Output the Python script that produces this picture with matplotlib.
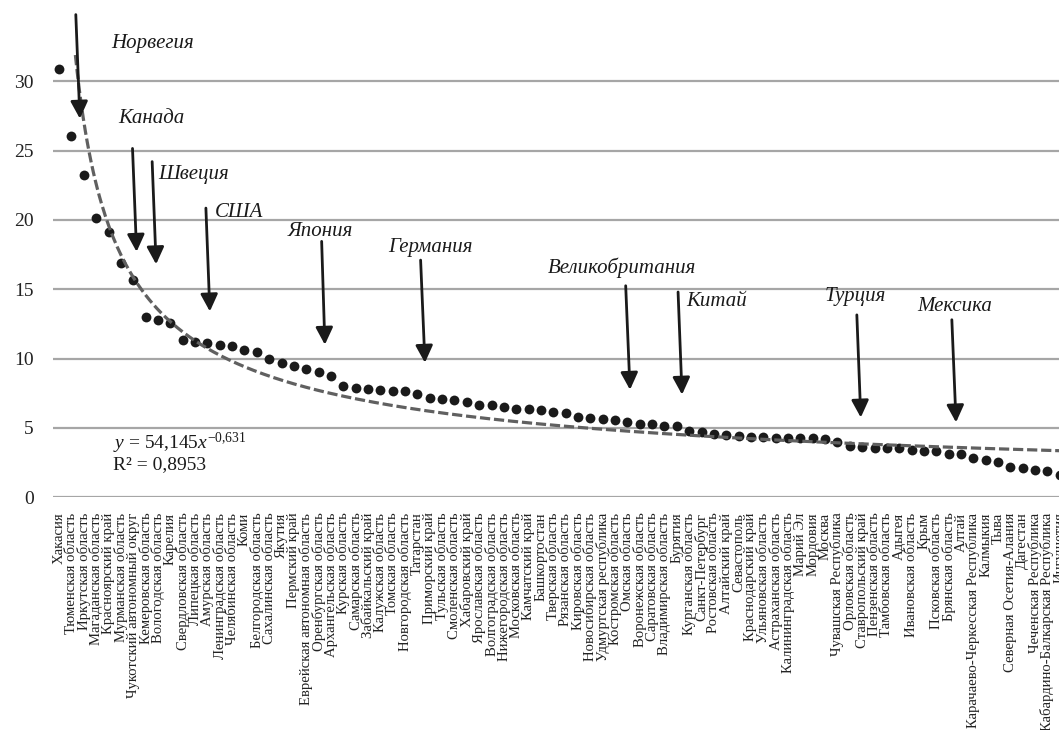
import numpy as np
import matplotlib
matplotlib.use('Agg')
import matplotlib.pyplot as plt

plt.rcParams['font.family'] = ['Liberation Serif', 'DejaVu Serif']
plt.rcParams['mathtext.fontset'] = 'custom'
plt.rcParams['mathtext.rm'] = 'Liberation Serif'
plt.rcParams['mathtext.it'] = 'Liberation Serif:italic'

# регионы в порядке убывания показателя
regions = [
    'Хакасия', 'Тюменская область', 'Иркутская область', 'Магаданская область',
    'Красноярский край', 'Мурманская область', 'Чукотский автономный округ',
    'Кемеровская область', 'Вологодская область', 'Карелия', 'Свердловская область',
    'Липецкая область', 'Амурская область', 'Ленинградская область',
    'Челябинская область', 'Коми', 'Белгородская область', 'Сахалинская область',
    'Якутия', 'Пермский край', 'Еврейская автономная область',
    'Оренбургская область', 'Архангельская область', 'Курская область',
    'Самарская область', 'Забайкальский край', 'Калужская область',
    'Томская область', 'Новгородская область', 'Татарстан', 'Приморский край',
    'Тульская область', 'Смоленская область', 'Хабаровский край',
    'Ярославская область', 'Волгоградская область', 'Нижегородская область',
    'Московская область', 'Камчатский край', 'Башкортостан', 'Тверская область',
    'Рязанская область', 'Кировская область', 'Новосибирская область',
    'Удмуртская республика', 'Костромская область', 'Омская область',
    'Воронежская область', 'Саратовская область', 'Владимирская область',
    'Бурятия', 'Курганская область', 'Санкт-Петербург', 'Ростовская область',
    'Алтайский край', 'Севастополь', 'Краснодарский край', 'Ульяновская область',
    'Астраханская область', 'Калининградская область', 'Марий Эл', 'Мордовия',
    'Москва', 'Чувашская Республика', 'Орловская область', 'Ставропольский край',
    'Пензенская область', 'Тамбовская область', 'Адыгея', 'Ивановская область',
    'Крым', 'Псковская область', 'Брянская область', 'Алтай',
    'Карачаево-Черкесская Республика', 'Калмыкия', 'Тыва',
    'Северная Осетия-Алания', 'Дагестан', 'Чеченская Республика',
    'Кабардино-Балкарская Республика', 'Ингушетия',
]

values = [
    30.9, 26.05, 23.2, 20.1, 19.15, 16.9, 15.7, 13.0, 12.8, 12.55,
    11.35, 11.2, 11.15, 11.0, 10.9, 10.6, 10.5, 9.95, 9.65, 9.5,
    9.25, 9.0, 8.77, 8.0, 7.9, 7.8, 7.7, 7.68, 7.65, 7.45,
    7.15, 7.07, 7.0, 6.9, 6.65, 6.63, 6.53, 6.37, 6.33, 6.29,
    6.13, 6.06, 5.81, 5.74, 5.65, 5.55, 5.43, 5.31, 5.26, 5.17,
    5.16, 4.78, 4.69, 4.56, 4.49, 4.44, 4.37, 4.33, 4.29, 4.28,
    4.3, 4.28, 4.2, 4.01, 3.72, 3.65, 3.58, 3.53, 3.52, 3.41,
    3.36, 3.35, 3.12, 3.11, 2.81, 2.69, 2.52, 2.16, 2.09, 1.97,
    1.92, 1.61,
]

# степенной тренд y = a * x^b
trend_a = 54.145
trend_b = -0.631
r2 = 0.8953

# страны: подпись (x, y), начало стрелки, острие стрелки
countries = ['Норвегия', 'Канада', 'Швеция', 'США', 'Япония', 'Германия',
             'Великобритания', 'Китай', 'Турция', 'Мексика']
label_pos = [(5.25, 32.7), (5.75, 27.3), (9.0, 23.25), (13.6, 20.5), (19.5, 19.15),
             (27.6, 18.0), (40.55, 16.55), (51.8, 14.1), (63.0, 14.45), (70.45, 13.75)]
arrow_from = [(2.35, 34.8), (6.94, 25.15), (8.53, 24.2), (12.88, 20.85), (22.25, 18.45),
              (30.26, 17.1), (46.86, 15.25), (51.1, 14.8), (65.57, 13.15), (73.26, 12.8)]
arrow_to = [(2.68, 27.3), (7.27, 17.7), (8.85, 16.8), (13.2, 13.4), (22.51, 11.0),
            (30.61, 9.7), (47.21, 7.75), (51.42, 7.4), (65.89, 5.75), (73.6, 5.4)]

x = np.arange(1, len(values) + 1)

fig = plt.figure(figsize=(10.59, 7.30), dpi=100)
ax = fig.add_axes([0.05, 0.3188, 0.9566, 0.608])

ax.scatter(x, values, s=50, color='#1a1a1a', zorder=3, linewidths=0)

xs = np.linspace(1, len(values), 500)
ax.plot(xs, trend_a * xs ** trend_b, color='#606060', lw=2.3,
        dashes=(3.2, 1.2), zorder=4)

ax.set_xlim(0.5, len(values) + 0.5)
ax.set_ylim(0, 32.0)
ax.set_yticks(range(0, 31, 5))
ax.set_xticks(x)
ax.set_xticklabels(regions, rotation=90, fontsize=10.6, color='#222222')
ax.tick_params(axis='y', length=0, pad=14, labelsize=14, labelcolor='#222222')
ax.tick_params(axis='x', length=0, pad=11)
ax.grid(axis='y', color='#a6a6a6', lw=1.6)
ax.set_axisbelow(True)
for s in ax.spines.values():
    s.set_visible(False)

for name, lp, a0, a1 in zip(countries, label_pos, arrow_from, arrow_to):
    ax.annotate('', xy=a1, xytext=a0, annotation_clip=False,
                arrowprops=dict(arrowstyle='-|>', color='#1a1a1a', lw=2,
                                mutation_scale=26, shrinkA=0, shrinkB=0),
                zorder=5)
    ax.text(lp[0], lp[1], name, fontsize=15, style='italic', color='#1a1a1a',
            ha='left', va='center', clip_on=False, zorder=5)

ax.text(5.4, 3.85, r'$y$ = 54,145$x^{\mathrm{-0{,}631}}$', fontsize=14,
        ha='left', va='center', color='#1a1a1a')
ax.text(5.4, 2.35, 'R² = ' + f'{r2}'.replace('.', ','), fontsize=14,
        ha='left', va='center', color='#1a1a1a')

fig.savefig('out.png', dpi=100)
